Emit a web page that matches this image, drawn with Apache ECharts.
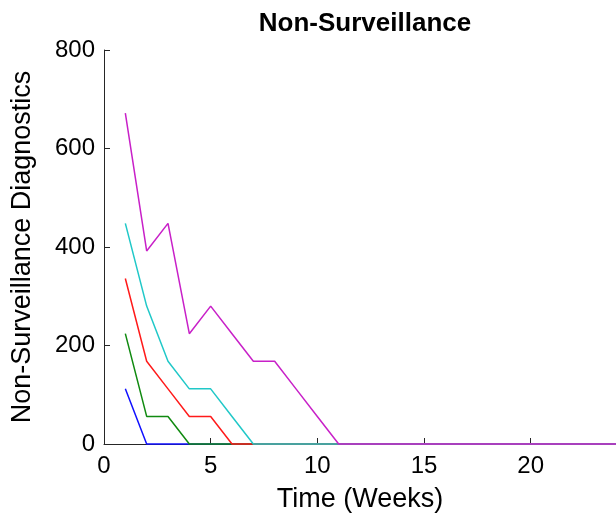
<!DOCTYPE html>
<html>
<head>
<meta charset="utf-8">
<script src="https://cdn.jsdelivr.net/npm/echarts@6/dist/echarts.min.js"></script>
<style>
html,body{margin:0;padding:0;background:#fff;}
#c{width:616px;height:518px;}
</style>
</head>
<body>
<div id="c"></div>
<script>
const weeks = [1,2,3,4,5,6,7,8,9,10,11,12,13,14,15,16,17,18,19,20,21,22,23,24];
const seriesBlue    = [112,0,0,0,0,0,0,0,0,0,0,0,0,0,0,0,0,0,0,0,0,0,0,0];
const seriesGreen   = [224,56,56,0,0,0,0,0,0,0,0,0,0,0,0,0,0,0,0,0,0,0,0,0];
const seriesRed     = [336,168,112,56,56,0,0,0,0,0,0,0,0,0,0,0,0,0,0,0,0,0,0,0];
const seriesCyan    = [448,280,168,112,112,56,0,0,0,0,0,0,0,0,0,0,0,0,0,0,0,0,0,0];
const seriesMagenta = [672,392,448,224,280,224,168,168,112,56,0,0,0,0,0,0,0,0,0,0,0,0,0,0];
const yTicks = [0,200,400,600,800];
const xTicks = [0,5,10,15,20];

const allSeries = [
  {name:'s1', data: seriesBlue, color:'#1010FF'},
  {name:'s2', data: seriesGreen, color:'#108A10'},
  {name:'s3', data: seriesRed, color:'#FF1A1A'},
  {name:'s4', data: seriesCyan, color:'#20C8C8'},
  {name:'s5', data: seriesMagenta, color:'#C820C8'}
];

const font = 'Liberation Sans, Arial, sans-serif';
const axisColor = '#262626';

const chart = echarts.init(document.getElementById('c'));
chart.setOption({
  backgroundColor: '#fff',
  animation: false,
  title: {
    text: 'Non-Surveillance',
    left: 360,
    top: 6,
    textAlign: 'center',
    textStyle: {fontFamily: font, fontSize: 26, fontWeight: 'bold', color: '#000'}
  },
  grid: {left: 104, right: 0, top: 50, height: 394, containLabel: false},
  xAxis: {
    type: 'value',
    min: 0, max: 24, interval: 5,
    name: 'Time (Weeks)',
    nameLocation: 'middle',
    nameGap: 42,
    nameTextStyle: {fontFamily: font, fontSize: 27, color: '#000'},
    axisLine: {show: true, onZero: false, lineStyle: {color: axisColor, width: 1}},
    axisTick: {show: true, inside: true, length: 6, lineStyle: {color: axisColor}},
    axisLabel: {fontFamily: font, fontSize: 24, color: '#000', margin: 10, showMaxLabel: false,
      formatter: v => xTicks.includes(v) ? String(v) : ''},
    splitLine: {show: false}
  },
  yAxis: {
    type: 'value',
    min: 0, max: 800, interval: 200,
    name: 'Non-Surveillance Diagnostics',
    nameLocation: 'middle',
    nameGap: 68,
    nameRotate: 90,
    nameTextStyle: {fontFamily: font, fontSize: 27, color: '#000'},
    axisLine: {show: true, lineStyle: {color: axisColor, width: 1}},
    axisTick: {show: true, inside: true, length: 6, lineStyle: {color: axisColor}},
    axisLabel: {fontFamily: font, fontSize: 24, color: '#000', margin: 9,
      formatter: v => yTicks.includes(v) ? String(v) : ''},
    splitLine: {show: false}
  },
  series: allSeries.map(s => ({
    type: 'line',
    name: s.name,
    data: weeks.map((w, i) => [w, s.data[i]]),
    showSymbol: false,
    symbol: 'none',
    lineStyle: {color: s.color, width: 1.5},
    itemStyle: {color: s.color},
    clip: false
  }))
});
</script>
</body>
</html>
